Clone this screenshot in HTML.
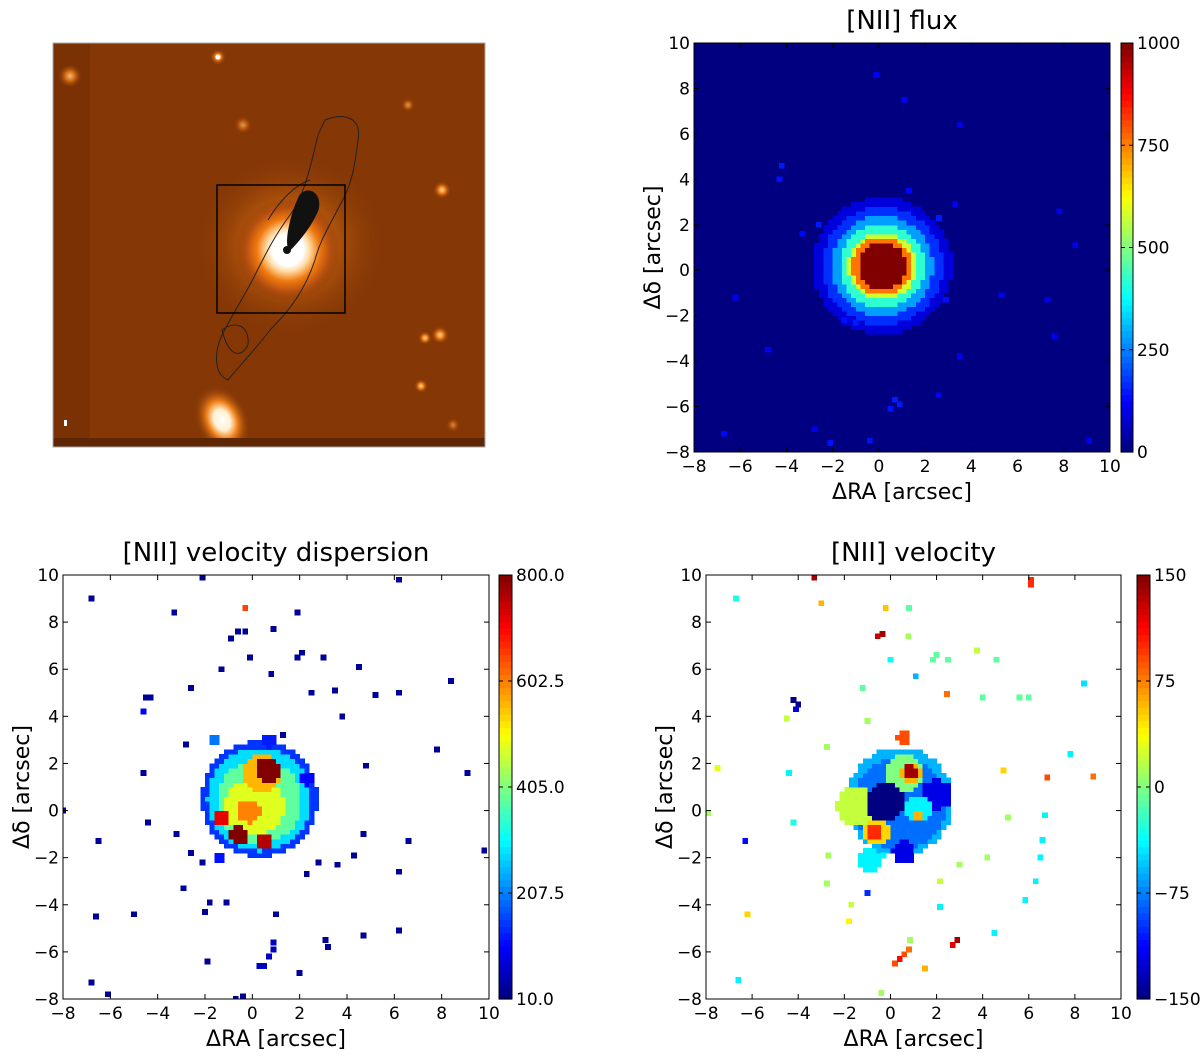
<!DOCTYPE html>
<html><head><meta charset="utf-8"><style>
html,body{margin:0;padding:0;background:#fff;}
svg{display:block;font-family:"DejaVu Sans","Liberation Sans",sans-serif;}
</style></head><body>
<svg id="fig" width="1200" height="1057" viewBox="0 0 1200 1057" xmlns="http://www.w3.org/2000/svg">
<defs>
<radialGradient id="nuc" cx="0.5" cy="0.5" r="0.5">
<stop offset="0" stop-color="#ffffff"/><stop offset="0.3" stop-color="#ffffff"/><stop offset="0.42" stop-color="#ffd9a0"/><stop offset="0.6" stop-color="#f07a10"/><stop offset="0.8" stop-color="#b85010"/><stop offset="1" stop-color="#853806" stop-opacity="0"/>
</radialGradient>
<radialGradient id="star" cx="0.5" cy="0.5" r="0.5">
<stop offset="0" stop-color="#ffe0a0"/><stop offset="0.4" stop-color="#f07a14"/><stop offset="1" stop-color="#853806" stop-opacity="0"/>
</radialGradient>
<radialGradient id="gal" cx="0.5" cy="0.5" r="0.5">
<stop offset="0" stop-color="#ffffff"/><stop offset="0.3" stop-color="#fff0d0"/><stop offset="0.55" stop-color="#f08018"/><stop offset="1" stop-color="#853806" stop-opacity="0"/>
</radialGradient>
<clipPath id="imgclip"><rect x="53" y="43" width="432" height="404"/></clipPath>
</defs>
<g id="image-panel" clip-path="url(#imgclip)">
<rect x="53" y="43" width="432" height="404" fill="#7a3205"/>
<rect x="90" y="43" width="395" height="395" fill="#853806"/>
<ellipse cx="290" cy="245" rx="95" ry="90" fill="url(#star)" opacity="0.55"/>
<ellipse cx="288" cy="250" rx="52" ry="52" fill="url(#nuc)"/>
<circle cx="218" cy="57" r="8" fill="url(#star)"/><circle cx="218" cy="57" r="2.5" fill="#fff"/>
<circle cx="70" cy="76" r="12" fill="url(#star)" opacity="0.8"/>
<circle cx="442" cy="190" r="9" fill="url(#star)"/>
<circle cx="440" cy="335" r="9" fill="url(#star)"/>
<circle cx="425" cy="338" r="7" fill="url(#star)"/>
<circle cx="421" cy="386" r="7" fill="url(#star)"/>
<circle cx="243" cy="125" r="9" fill="url(#star)" opacity="0.6"/>
<circle cx="408" cy="105" r="7" fill="url(#star)" opacity="0.6"/>
<circle cx="453" cy="425" r="7" fill="url(#star)" opacity="0.5"/>
<ellipse cx="222" cy="420" rx="26" ry="36" transform="rotate(-25 222 420)" fill="url(#gal)"/>
<rect x="64" y="420" width="3" height="6" fill="#fff"/>
<rect x="53" y="438" width="432" height="9" fill="#5e2604"/>
<path d="M325,120 C345,112 362,118 358,140 C355,165 352,185 340,205 C330,225 320,240 315,260 C305,290 290,310 270,330 C255,350 240,365 228,380 C215,375 213,355 222,335 C235,310 245,295 255,275 C265,255 275,235 290,215 C305,195 312,160 318,135 Z" fill="none" stroke="#222" stroke-width="1"/>
<path d="M268,220 C280,200 295,185 310,180" fill="none" stroke="#222" stroke-width="1"/>
<path d="M300,195 C310,185 322,195 318,210 C312,225 300,240 290,250 C284,245 290,215 300,195 Z" fill="#111" stroke="#111"/>
<circle cx="287" cy="250" r="4" fill="#111"/>
<path d="M222,330 C235,320 250,325 248,345 C240,360 228,355 222,330 Z" fill="none" stroke="#222" stroke-width="1"/>
<rect x="217" y="185" width="128" height="128" fill="none" stroke="#000" stroke-width="1.5"/>
</g>
<rect x="53" y="43" width="432" height="404" fill="none" stroke="#aaa" stroke-width="1"/>
</svg>
<script>
// ---- data ----
const fluxCenter = [0.15, 0.2];
const fluxRings = [[3.0, 90], [2.6, 170], [2.2, 280], [1.85, 420], [1.5, 580], [1.3, 760], [1.05, 1000]];
const fluxPixels = [[-0.1,8.6,120],[-4.2,4.6,150],[-4.3,4.0,140],[-3.3,1.6,130],[1.3,3.5,130],[3.3,2.9,120],[3.5,6.4,110],[1.1,7.5,120],[7.8,2.6,110],[8.5,1.1,120],[2.9,-1.3,140],[-6.2,-1.2,120],[-4.8,-3.5,120],[0.7,-5.7,150],[0.9,-5.9,150],[0.5,-6.1,140],[2.6,-5.5,120],[3.5,-3.8,120],[-6.7,-7.2,130],[-2.8,-7.0,110],[5.3,-1.1,110],[7.3,-1.3,110],[9.1,-7.5,110],[7.6,-2.9,110],[-2.1,-7.6,140],[-0.4,-7.5,140],[-2.6,2.0,150],[2.6,2.3,150],[-1.5,-2.2,140],[-1.0,-2.3,150]];
const dispBlobs = [[0.3,0.5,2.45,150],[0.3,0.5,2.2,280],[0.3,0.4,1.8,380],[0.1,0.2,1.25,480],[0.4,1.6,0.85,560],[-0.1,0.0,0.5,600],[0.66,1.72,0.55,800],[-0.56,-1.04,0.42,800],[-1.28,-0.3,0.3,720],[0.5,-1.34,0.35,760],[-1.6,3.0,0.3,200],[0.7,3.0,0.3,130],[-1.4,-2.0,0.3,120],[2.3,1.4,0.3,110]];
const dispPixels = [[-6.8,9,30],[-3.3,8.4,30],[-2.1,9.9,30],[-0.6,7.6,30],[-0.3,7.6,30],[0.9,7.7,30],[-0.9,7.3,30],[1.9,8.4,30],[-0.1,6.5,30],[1.9,6.5,30],[2.1,6.7,30],[3.5,5.1,30],[6.2,9.8,30],[4.5,6.1,30],[3.0,6.5,30],[-4.5,4.8,30],[-4.3,4.8,30],[-4.6,4.2,100],[-2.6,5.2,30],[-1.3,6.0,30],[0.8,5.8,30],[2.5,5.0,30],[3.8,4.0,30],[5.2,4.9,30],[6.2,5.0,30],[8.4,5.5,30],[-2.8,2.8,30],[-4.6,1.6,30],[1.3,3.2,30],[4.8,1.9,30],[7.8,2.6,30],[9.1,1.6,30],[-8,0.0,30],[-6.5,-1.3,30],[-4.4,-0.5,30],[-2.6,-1.8,30],[-2.9,-3.3,30],[-2.0,-4.3,30],[-5.0,-4.4,30],[-6.6,-4.5,30],[-6.8,-7.3,30],[-6.1,-7.8,30],[-1.9,-6.4,30],[-0.4,-7.9,30],[-1.1,-3.9,30],[1.0,-4.4,30],[2.3,-2.7,30],[2.8,-2.2,30],[3.6,-2.3,30],[4.3,-1.9,30],[4.7,-1.0,30],[6.6,-1.3,30],[6.2,-2.6,30],[9.8,-1.7,30],[3.1,-5.5,30],[3.2,-5.8,30],[4.7,-5.3,30],[6.2,-5.1,30],[2.0,-6.9,30],[0.7,-6.2,60],[0.9,-5.6,60],[0.9,-5.9,60],[0.5,-6.6,60],[0.3,-6.6,60],[-0.7,-8.0,30],[-3.2,-1.0,30],[-2.1,-2.2,30],[-0.3,8.6,650],[-1.8,-3.9,30]];
const velBlobs = [[0.4,0.4,2.3,-60],[0.4,0.3,2.0,-80],[-1.5,0.2,0.85,20],[0.6,1.6,0.85,0],[-0.25,0.35,0.85,-150],[2.0,0.7,0.65,-120],[0.6,-1.7,0.5,-120],[1.2,0.1,0.55,-40],[1.2,-0.2,0.25,60],[0.9,1.65,0.45,60],[0.85,1.65,0.3,140],[-0.6,-0.9,0.6,50],[-0.65,-0.9,0.35,100],[0.6,3.1,0.3,90],[-0.9,-2.1,0.5,-40]];
const velPixels = [[-3.3,9.9,140],[6.1,9.8,100],[6.1,9.6,100],[-3.0,8.8,60],[-0.2,8.6,55],[0.8,8.6,-10],[-0.55,7.4,130],[-0.35,7.5,140],[0.77,7.4,10],[3.75,6.8,20],[1.85,6.4,-10],[2.0,6.6,-10],[2.5,6.4,-10],[4.6,6.4,-10],[0.0,6.4,-35],[1.1,5.7,-60],[-1.2,5.2,-10],[2.45,4.95,80],[4.0,4.8,-10],[5.6,4.8,-10],[6.0,4.8,-10],[8.4,5.4,-45],[-1.0,3.8,10],[-6.7,9.0,-30],[-4.2,4.7,-150],[-4.0,4.5,-150],[-4.1,4.3,-120],[-4.5,3.9,20],[-7.5,1.8,30],[-7.9,-0.1,10],[-6.3,-1.3,-110],[-4.2,-0.5,-30],[-2.75,2.7,10],[-4.4,1.6,-40],[4.9,1.7,50],[6.8,1.4,90],[7.8,2.4,-40],[8.8,1.45,80],[6.7,-0.2,-40],[6.6,-1.25,-40],[6.5,-2.0,-40],[6.3,-3.0,-40],[4.2,-2.0,10],[3.0,-2.3,10],[2.15,-3.0,20],[2.15,-4.1,-40],[-1.0,-3.5,-100],[-0.3,-1.9,-40],[-2.7,-1.9,10],[-1.7,-4.0,20],[-1.8,-4.7,40],[-2.75,-3.1,10],[-6.2,-4.4,50],[-6.6,-7.2,-40],[-0.4,-7.75,10],[1.5,-6.7,60],[2.9,-5.5,140],[2.7,-5.7,120],[0.6,-6.1,90],[0.8,-5.9,80],[0.2,-6.5,90],[0.4,-6.3,110],[0.85,-5.5,10],[4.5,-5.2,-40],[5.85,-3.8,-40],[5.1,-0.3,10]];
const xTicks = [-8,-6,-4,-2,0,2,4,6,8,10];
const yTicks = [-8,-6,-4,-2,0,2,4,6,8,10];
const fluxCbTicks = [0,250,500,750,1000];
const dispCbTicks = ["10.0","207.5","405.0","602.5","800.0"];
const velCbTicks = [-150,-75,0,75,150];

const NS="http://www.w3.org/2000/svg";
const svg=document.getElementById('fig');
function mk(tag,attrs,parent){const e=document.createElementNS(NS,tag);for(const k in attrs)e.setAttribute(k,attrs[k]);(parent||svg).appendChild(e);return e;}
function jet(t){t=Math.max(0,Math.min(1,t));
 const r=Math.max(0,Math.min(1,1.5-Math.abs(4*t-3)));
 const g=Math.max(0,Math.min(1,1.5-Math.abs(4*t-2)));
 const b=Math.max(0,Math.min(1,1.5-Math.abs(4*t-1)));
 return `rgb(${Math.round(r*255)},${Math.round(g*255)},${Math.round(b*255)})`;}

function panel(cfg){
 const g=mk('g',{});
 
 
 const sx=v=>cfg.x0+(v+8)/18*(cfg.x1-cfg.x0);
 const sy=v=>cfg.y1-(v+8)/18*(cfg.y1-cfg.y0);
 const col=v=>jet((v-cfg.vmin)/(cfg.vmax-cfg.vmin));
 const cid='clip'+cfg.name;
 const cp=mk('clipPath',{id:cid},g);mk('rect',{x:cfg.x0,y:cfg.y0,width:cfg.x1-cfg.x0,height:cfg.y1-cfg.y0},cp);
 const plot=mk('g',{'clip-path':`url(#${cid})`,'shape-rendering':'crispEdges'},g);
 
 
 mk('rect',{x:cfg.x0,y:cfg.y0,width:cfg.x1-cfg.x0,height:cfg.y1-cfg.y0,fill:cfg.bg},plot);
 const ps=0.25;
 // rasterize blobs on grid
 const cs=0.2;
 for(let gx=-8;gx<10;gx+=cs){for(let gy=-8;gy<10;gy+=cs){
  const cx=gx+cs/2,cy=gy+cs/2;let val=null;
  (cfg.blobs||[]).forEach(b=>{if((cx-b[0])**2+(cy-b[1])**2<=b[2]*b[2])val=b[3];});
  if(val!==null){
   const r=mk('rect',{x:sx(gx),y:sy(gy+cs),width:sx(gx+cs)-sx(gx)+0.5,height:sy(gy)-sy(gy+cs)+0.5,fill:col(val)},plot);
   
   
  }}}
 (cfg.pixels||[]).forEach(p=>{
  const r=mk('rect',{x:sx(p[0]-ps/2),y:sy(p[1]+ps/2),width:sx(ps)-sx(0),height:sy(0)-sy(ps),fill:col(p[2])},plot);
  
  
 });
 mk('rect',{x:cfg.x0,y:cfg.y0,width:cfg.x1-cfg.x0,height:cfg.y1-cfg.y0,fill:'none',stroke:'#000','stroke-width':1},g);
 xTicks.forEach(t=>{const x=sx(t);
  mk('line',{x1:x,x2:x,y1:cfg.y1,y2:cfg.y1-5,stroke:'#000'},g);
  mk('line',{x1:x,x2:x,y1:cfg.y0,y2:cfg.y0+5,stroke:'#000'},g);
  const tx=mk('text',{x:x,y:cfg.y1+20,'text-anchor':'middle','font-size':17},g);tx.textContent=String(t).replace('-','\u2212');
  
  });
 yTicks.forEach(t=>{const y=sy(t);
  mk('line',{x1:cfg.x0,x2:cfg.x0+5,y1:y,y2:y,stroke:'#000'},g);
  mk('line',{x1:cfg.x1,x2:cfg.x1-5,y1:y,y2:y,stroke:'#000'},g);
  const tx=mk('text',{x:cfg.x0-4,y:y+6,'text-anchor':'end','font-size':17},g);tx.textContent=String(t).replace('-','\u2212');
  
  });
 const xl=mk('text',{x:(cfg.x0+cfg.x1)/2,y:cfg.y1+47,'text-anchor':'middle','font-size':22},g);xl.textContent='ΔRA [arcsec]';
 
 
 const ym=(cfg.y0+cfg.y1)/2;
 const yl=mk('text',{x:cfg.x0-34,y:ym,'text-anchor':'middle','font-size':22,transform:`rotate(-90 ${cfg.x0-34} ${ym})`},g);yl.textContent='Δδ [arcsec]';
 
 
 const ti=mk('text',{x:(cfg.x0+cfg.x1)/2,y:cfg.y0-14,'text-anchor':'middle','font-size':26},g);ti.textContent=cfg.title;
 
 
 const cb=mk('g',{},g);
 
 
 const n=64,h=(cfg.y1-cfg.y0)/n;
 for(let i=0;i<n;i++)mk('rect',{x:cfg.cbx,y:cfg.y1-(i+1)*h,width:cfg.cbw,height:h+0.6,fill:jet((i+0.5)/n)},cb);
 mk('rect',{x:cfg.cbx,y:cfg.y0,width:cfg.cbw,height:cfg.y1-cfg.y0,fill:'none',stroke:'#000'},cb);
 cfg.cbTicks.forEach((t,i)=>{const y=cfg.y1-i/(cfg.cbTicks.length-1)*(cfg.y1-cfg.y0);
  mk('line',{x1:cfg.cbx,x2:cfg.cbx+4,y1:y,y2:y,stroke:'#000'},cb);
  mk('line',{x1:cfg.cbx+cfg.cbw,x2:cfg.cbx+cfg.cbw-4,y1:y,y2:y,stroke:'#000'},cb);
  const tx=mk('text',{x:cfg.cbx+cfg.cbw+4,y:y+6,'font-size':17},cb);tx.textContent=String(t).replace('-','\u2212');
  
  });
}
const fluxBlobs=fluxRings.map(r=>[fluxCenter[0],fluxCenter[1],r[0],r[1]]);
panel({name:'flux-panel',title:'[NII] flux',x0:694,x1:1110,y0:43,y1:452,cbx:1121,cbw:12,vmin:0,vmax:1000,bg:jet(0),pixels:fluxPixels,blobs:fluxBlobs,cbTicks:fluxCbTicks});
panel({name:'dispersion-panel',title:'[NII] velocity dispersion',x0:63,x1:489,y0:575,y1:999,cbx:499,cbw:13,vmin:10,vmax:800,bg:'#fff',pixels:dispPixels,blobs:dispBlobs,cbTicks:dispCbTicks});
panel({name:'velocity-panel',title:'[NII] velocity',x0:706,x1:1121,y0:575,y1:999,cbx:1137,cbw:13,vmin:-150,vmax:150,bg:'#fff',pixels:velPixels,blobs:velBlobs,cbTicks:velCbTicks});
</script>
</body></html>
